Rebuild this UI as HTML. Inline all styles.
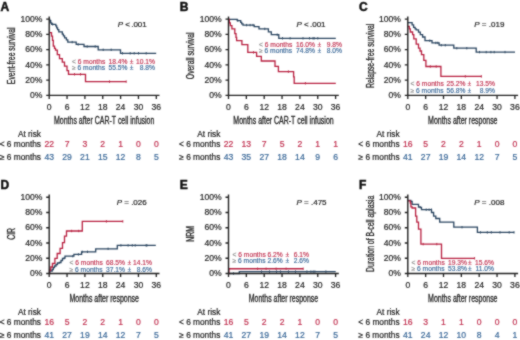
<!DOCTYPE html><html><head><meta charset="utf-8"><style>html,body{margin:0;padding:0;background:#fff;overflow:hidden}svg{display:block;will-change:transform;}text{font-family:"Liberation Sans", sans-serif}</style></head><body>
<svg width="520" height="340" viewBox="0 0 520 340">
<defs><filter id="bl" filterUnits="userSpaceOnUse" x="0" y="0" width="520" height="340" color-interpolation-filters="sRGB"><feConvolveMatrix order="3" kernelMatrix="1 2 1 2 12 2 1 2 1" edgeMode="duplicate" preserveAlpha="true"/></filter></defs>
<g filter="url(#bl)">
<rect width="520" height="340" fill="#fff"/>
<text x="0.5" y="10.5" font-size="12" font-weight="bold" fill="#111" stroke="#111" stroke-width="0.5">A</text>
<text transform="translate(15 55.78) rotate(-90) scale(0.686 1)" text-anchor="middle" font-size="10" fill="#222" stroke="#222" stroke-width="0.3">Event-free survival</text>
<path d="M46.2 80.15H49.2M46.2 64.9H49.2M46.2 49.65H49.2M46.2 34.4H49.2M46.2 19.15H49.2M49.2 95.4V98.9M67.05 95.4V98.9M84.9 95.4V98.9M102.75 95.4V98.9M120.6 95.4V98.9M138.45 95.4V98.9M156.3 95.4V98.9" stroke="#222" stroke-width="1.3" fill="none"/>
<g fill="#262626" stroke="#262626" stroke-width="0.2" font-size="8.6"><text x="42.4" y="98.1" text-anchor="end">0%</text><text x="42.4" y="82.85" text-anchor="end">20%</text><text x="42.4" y="67.6" text-anchor="end">40%</text><text x="42.4" y="52.35" text-anchor="end">60%</text><text x="42.4" y="37.1" text-anchor="end">80%</text><text x="42.4" y="21.85" text-anchor="end">100%</text><text x="49.2" y="109.5" text-anchor="middle">0</text><text x="67.05" y="109.5" text-anchor="middle">6</text><text x="84.9" y="109.5" text-anchor="middle">12</text><text x="102.75" y="109.5" text-anchor="middle">18</text><text x="120.6" y="109.5" text-anchor="middle">24</text><text x="138.45" y="109.5" text-anchor="middle">30</text><text x="156.3" y="109.5" text-anchor="middle">36</text></g>
<text transform="translate(104.2 123.6) scale(0.699 1)" text-anchor="middle" font-size="10" fill="#222" stroke="#222" stroke-width="0.3">Months after CAR-T cell infusion</text>
<g fill="#222" stroke="#222" stroke-width="0.2" font-size="8.3" text-anchor="end"><text x="41" y="136.6">At risk</text><text x="41" y="147.2">&lt; 6 months</text><text x="41" y="159.5">≥ 6 months</text></g>
<g fill="#c0304f" stroke="#c0304f" stroke-width="0.2" font-size="8.6" text-anchor="middle"><text x="49.2" y="147.2">22</text><text x="67.05" y="147.2">7</text><text x="84.9" y="147.2">3</text><text x="102.75" y="147.2">2</text><text x="120.6" y="147.2">1</text><text x="138.45" y="147.2">0</text><text x="156.3" y="147.2">0</text></g>
<g fill="#3a6898" stroke="#3a6898" stroke-width="0.2" font-size="8.6" text-anchor="middle"><text x="49.2" y="159.5">43</text><text x="67.05" y="159.5">29</text><text x="84.9" y="159.5">21</text><text x="102.75" y="159.5">15</text><text x="120.6" y="159.5">12</text><text x="138.45" y="159.5">8</text><text x="156.3" y="159.5">5</text></g>
<text x="117.7" y="27.3" font-size="8" fill="#222" stroke="#222" stroke-width="0.2"><tspan font-style="italic">P</tspan> &lt;<tspan dx="-1"> .001</tspan></text>
<g fill="#c0304f" stroke="#c0304f" stroke-width="0.15" font-size="6.7"><text x="72" y="63.6"><tspan fill="#888" stroke="#888">&lt;</tspan> 6 months</text><text x="108.5" y="63.6">18.4%</text><text x="129.8" y="63.6">±</text><text x="155" y="63.6" text-anchor="end">10.1%</text></g>
<g fill="#3a6898" stroke="#3a6898" stroke-width="0.15" font-size="6.7"><text x="72" y="70.4"><tspan fill="#888" stroke="#888">≥</tspan> 6 months</text><text x="108.5" y="70.4">55.5%</text><text x="129.8" y="70.4">±</text><text x="155" y="70.4" text-anchor="end">8.8%</text></g>
<path d="M49.2 19.3 L49.8 19.3 L49.8 20.6 L50.7 20.6 L50.7 22.8 L51.7 22.8 L51.7 24.3 L55.8 24.3 L55.8 25.9 L56.7 25.9 L56.7 27.8 L57.6 27.8 L57.6 29.7 L58.8 29.7 L58.8 31.8 L62.3 31.8 L62.3 34.1 L63.4 34.1 L63.4 35.9 L64.6 35.9 L64.6 37.9 L66.4 37.9 L66.4 39.9 L67.8 39.9 L67.8 42.1 L76.2 42.1 L76.2 44.4 L84 44.4 L84 46.5 L98.2 46.5 L98.2 49.8 L120.5 49.8 L120.5 53.3 L156.2 53.3" stroke="#2a4560" stroke-width="1.3" fill="none"/>
<path d="M52.7 23.1v2.4M72.2 40.9v2.4M78.2 43.2v2.4M87.2 45.3v2.4M95.2 45.3v2.4M103.2 48.6v2.4M111.2 48.6v2.4M122.5 52.1v2.4M130.2 52.1v2.4M134.2 52.1v2.4M138.5 52.1v2.4M146.2 52.1v2.4" stroke="#2a4560" stroke-width="0.9" fill="none"/>
<path d="M49.2 32.6 L51.5 32.6 L51.5 36.1 L52.5 36.1 L52.5 40.4 L53.3 40.4 L53.3 46.1 L54.5 46.1 L54.5 48.4 L55.5 48.4 L55.5 50.1 L57.3 50.1 L57.3 54.6 L59.5 54.6 L59.5 58.6 L62.3 58.6 L62.3 62.1 L64.5 62.1 L64.5 66.1 L67 66.1 L67 70.6 L68.5 70.6 L68.5 74.3 L85.5 74.3 L85.5 81.6 L126.2 81.6" stroke="#b82040" stroke-width="1.3" fill="none"/>
<path d="M74.5 73.1v2.4M80.5 73.1v2.4M109.5 80.4v2.4M126.2 80.4v2.4" stroke="#b82040" stroke-width="0.9" fill="none"/>
<path d="M49.2 16.45V95.4M46.2 95.4H159.5" stroke="#222" stroke-width="1.4" fill="none"/>
<text x="179.8" y="10.5" font-size="12" font-weight="bold" fill="#111" stroke="#111" stroke-width="0.5">B</text>
<text transform="translate(194.3 55.78) rotate(-90) scale(0.686 1)" text-anchor="middle" font-size="10" fill="#222" stroke="#222" stroke-width="0.3">Overall survival</text>
<path d="M225.5 80.15H228.5M225.5 64.9H228.5M225.5 49.65H228.5M225.5 34.4H228.5M225.5 19.15H228.5M228.5 95.4V98.9M246.35 95.4V98.9M264.2 95.4V98.9M282.05 95.4V98.9M299.9 95.4V98.9M317.75 95.4V98.9M335.6 95.4V98.9" stroke="#222" stroke-width="1.3" fill="none"/>
<g fill="#262626" stroke="#262626" stroke-width="0.2" font-size="8.6"><text x="221.7" y="98.1" text-anchor="end">0%</text><text x="221.7" y="82.85" text-anchor="end">20%</text><text x="221.7" y="67.6" text-anchor="end">40%</text><text x="221.7" y="52.35" text-anchor="end">60%</text><text x="221.7" y="37.1" text-anchor="end">80%</text><text x="221.7" y="21.85" text-anchor="end">100%</text><text x="228.5" y="109.5" text-anchor="middle">0</text><text x="246.35" y="109.5" text-anchor="middle">6</text><text x="264.2" y="109.5" text-anchor="middle">12</text><text x="282.05" y="109.5" text-anchor="middle">18</text><text x="299.9" y="109.5" text-anchor="middle">24</text><text x="317.75" y="109.5" text-anchor="middle">30</text><text x="335.6" y="109.5" text-anchor="middle">36</text></g>
<text transform="translate(283.5 123.6) scale(0.699 1)" text-anchor="middle" font-size="10" fill="#222" stroke="#222" stroke-width="0.3">Months after CAR-T cell infusion</text>
<g fill="#222" stroke="#222" stroke-width="0.2" font-size="8.3" text-anchor="end"><text x="220.3" y="136.6">At risk</text><text x="220.3" y="147.2">&lt; 6 months</text><text x="220.3" y="159.5">≥ 6 months</text></g>
<g fill="#c0304f" stroke="#c0304f" stroke-width="0.2" font-size="8.6" text-anchor="middle"><text x="228.5" y="147.2">22</text><text x="246.35" y="147.2">13</text><text x="264.2" y="147.2">7</text><text x="282.05" y="147.2">5</text><text x="299.9" y="147.2">2</text><text x="317.75" y="147.2">1</text><text x="335.6" y="147.2">1</text></g>
<g fill="#3a6898" stroke="#3a6898" stroke-width="0.2" font-size="8.6" text-anchor="middle"><text x="228.5" y="159.5">43</text><text x="246.35" y="159.5">35</text><text x="264.2" y="159.5">27</text><text x="282.05" y="159.5">18</text><text x="299.9" y="159.5">14</text><text x="317.75" y="159.5">9</text><text x="335.6" y="159.5">6</text></g>
<text x="296.5" y="27.3" font-size="8" fill="#222" stroke="#222" stroke-width="0.2"><tspan font-style="italic">P</tspan> &lt;<tspan dx="-1"> .001</tspan></text>
<g fill="#c0304f" stroke="#c0304f" stroke-width="0.15" font-size="6.7"><text x="259" y="46.6"><tspan fill="#888" stroke="#888">&lt;</tspan> 6 months</text><text x="296" y="46.6">16.0%</text><text x="317.5" y="46.6">±</text><text x="342" y="46.6" text-anchor="end">9.8%</text></g>
<g fill="#3a6898" stroke="#3a6898" stroke-width="0.15" font-size="6.7"><text x="259" y="53.4"><tspan fill="#888" stroke="#888">≥</tspan> 6 months</text><text x="296" y="53.4">74.8%</text><text x="317.5" y="53.4">±</text><text x="342" y="53.4" text-anchor="end">8.0%</text></g>
<path d="M228.5 19.3 L237.2 19.3 L237.2 20.6 L240.7 20.6 L240.7 22.4 L241.7 22.4 L241.7 23.8 L243 23.8 L243 25.1 L254.2 25.1 L254.2 26.7 L259 26.7 L259 28.9 L268.4 28.9 L268.4 31.8 L271.3 31.8 L271.3 34.7 L278.8 34.7 L278.8 38.3 L335.8 38.3" stroke="#2a4560" stroke-width="1.3" fill="none"/>
<path d="M237.8 19.4v2.4M246.6 23.9v2.4M250.1 23.9v2.4M253 23.9v2.4M264.8 27.7v2.4M277.2 33.5v2.4M282.5 37.1v2.4M290.1 37.1v2.4M303 37.1v2.4M309.5 37.1v2.4M313 37.1v2.4M314.2 37.1v2.4M317.8 37.1v2.4" stroke="#2a4560" stroke-width="0.9" fill="none"/>
<path d="M228.5 19.3 L229.3 19.3 L229.3 22.9 L230.3 22.9 L230.3 25.6 L231.9 25.6 L231.9 28.9 L234.8 28.9 L234.8 33.6 L236 33.6 L236 37.4 L236.6 37.4 L236.6 40.6 L241.9 40.6 L241.9 44.7 L247.8 44.7 L247.8 52.4 L256.6 52.4 L256.6 56.3 L261.3 56.3 L261.3 61 L275 61 L275 66.3 L278.4 66.3 L278.4 71.6 L293.6 71.6 L293.6 76.9 L294.2 76.9 L294.2 83.3 L335.8 83.3" stroke="#b82040" stroke-width="1.3" fill="none"/>
<path d="M253.5 51.2v2.4M288.4 70.4v2.4M305.4 82.1v2.4" stroke="#b82040" stroke-width="0.9" fill="none"/>
<path d="M228.5 16.45V95.4M225.5 95.4H338.8" stroke="#222" stroke-width="1.4" fill="none"/>
<text x="359.1" y="10.5" font-size="12" font-weight="bold" fill="#111" stroke="#111" stroke-width="0.5">C</text>
<text transform="translate(373.6 55.78) rotate(-90) scale(0.686 1)" text-anchor="middle" font-size="10" fill="#222" stroke="#222" stroke-width="0.3">Relapse-free survival</text>
<path d="M404.8 80.15H407.8M404.8 64.9H407.8M404.8 49.65H407.8M404.8 34.4H407.8M404.8 19.15H407.8M407.8 95.4V98.9M425.65 95.4V98.9M443.5 95.4V98.9M461.35 95.4V98.9M479.2 95.4V98.9M497.05 95.4V98.9M514.9 95.4V98.9" stroke="#222" stroke-width="1.3" fill="none"/>
<g fill="#262626" stroke="#262626" stroke-width="0.2" font-size="8.6"><text x="401" y="98.1" text-anchor="end">0%</text><text x="401" y="82.85" text-anchor="end">20%</text><text x="401" y="67.6" text-anchor="end">40%</text><text x="401" y="52.35" text-anchor="end">60%</text><text x="401" y="37.1" text-anchor="end">80%</text><text x="401" y="21.85" text-anchor="end">100%</text><text x="407.8" y="109.5" text-anchor="middle">0</text><text x="425.65" y="109.5" text-anchor="middle">6</text><text x="443.5" y="109.5" text-anchor="middle">12</text><text x="461.35" y="109.5" text-anchor="middle">18</text><text x="479.2" y="109.5" text-anchor="middle">24</text><text x="497.05" y="109.5" text-anchor="middle">30</text><text x="514.9" y="109.5" text-anchor="middle">36</text></g>
<text transform="translate(462.8 123.6) scale(0.699 1)" text-anchor="middle" font-size="10" fill="#222" stroke="#222" stroke-width="0.3">Months after response</text>
<g fill="#222" stroke="#222" stroke-width="0.2" font-size="8.3" text-anchor="end"><text x="399.6" y="136.6">At risk</text><text x="399.6" y="147.2">&lt; 6 months</text><text x="399.6" y="159.5">≥ 6 months</text></g>
<g fill="#c0304f" stroke="#c0304f" stroke-width="0.2" font-size="8.6" text-anchor="middle"><text x="407.8" y="147.2">16</text><text x="425.65" y="147.2">5</text><text x="443.5" y="147.2">2</text><text x="461.35" y="147.2">2</text><text x="479.2" y="147.2">1</text><text x="497.05" y="147.2">0</text><text x="514.9" y="147.2">0</text></g>
<g fill="#3a6898" stroke="#3a6898" stroke-width="0.2" font-size="8.6" text-anchor="middle"><text x="407.8" y="159.5">41</text><text x="425.65" y="159.5">27</text><text x="443.5" y="159.5">19</text><text x="461.35" y="159.5">14</text><text x="479.2" y="159.5">12</text><text x="497.05" y="159.5">7</text><text x="514.9" y="159.5">5</text></g>
<text x="474.3" y="27.3" font-size="8" fill="#222" stroke="#222" stroke-width="0.2"><tspan font-style="italic">P</tspan> = .019</text>
<g fill="#c0304f" stroke="#c0304f" stroke-width="0.15" font-size="6.7"><text x="410.5" y="86.1"><tspan fill="#888" stroke="#888">&lt;</tspan> 6 months</text><text x="446.5" y="86.1">25.2%</text><text x="467.5" y="86.1">±</text><text x="495" y="86.1" text-anchor="end">13.5%</text></g>
<g fill="#3a6898" stroke="#3a6898" stroke-width="0.15" font-size="6.7"><text x="410.5" y="93.1"><tspan fill="#888" stroke="#888">≥</tspan> 6 months</text><text x="446.5" y="93.1">56.8%</text><text x="467.5" y="93.1">±</text><text x="495" y="93.1" text-anchor="end">8.9%</text></g>
<path d="M407.8 22.6 L412.1 22.6 L412.1 24.9 L413.6 24.9 L413.6 27.4 L415.1 27.4 L415.1 28.9 L416.2 28.9 L416.2 29.9 L418.5 29.9 L418.5 32.2 L420.3 32.2 L420.3 34.6 L422.6 34.6 L422.6 37 L425 37 L425 40.7 L432 40.7 L432 42.9 L439.1 42.9 L439.1 45.2 L453.8 45.2 L453.8 48.2 L476.2 48.2 L476.2 52.1 L515 52.1" stroke="#2a4560" stroke-width="1.3" fill="none"/>
<path d="M429.8 39.5v2.4M435.8 41.7v2.4M437.8 41.7v2.4M441.3 44v2.4M445.3 44v2.4M456.8 47v2.4M466.8 47v2.4M479.5 50.9v2.4M486.2 50.9v2.4M490.9 50.9v2.4M494.2 50.9v2.4M505 50.9v2.4" stroke="#2a4560" stroke-width="0.9" fill="none"/>
<path d="M407.8 26.4 L409.3 26.4 L409.3 28.8 L410.3 28.8 L410.3 32 L412.6 32 L412.6 34.6 L413.8 34.6 L413.8 38.8 L416.2 38.8 L416.2 44.1 L418.5 44.1 L418.5 48.2 L420 48.2 L420 51 L421.5 51 L421.5 54.6 L423.8 54.6 L423.8 60.3 L425.9 60.3 L425.9 66.5 L440.9 66.5 L440.9 76.4 L481.4 76.4" stroke="#b82040" stroke-width="1.3" fill="none"/>
<path d="M430.3 65.3v2.4M436.2 65.3v2.4M465.3 75.2v2.4M481.4 75.2v2.4" stroke="#b82040" stroke-width="0.9" fill="none"/>
<path d="M407.8 16.45V95.4M404.8 95.4H518.1" stroke="#222" stroke-width="1.4" fill="none"/>
<text x="0.5" y="188.6" font-size="12" font-weight="bold" fill="#111" stroke="#111" stroke-width="0.5">D</text>
<text transform="translate(15 233.88) rotate(-90) scale(0.686 1)" text-anchor="middle" font-size="10" fill="#222" stroke="#222" stroke-width="0.3">CIR</text>
<path d="M46.2 258.25H49.2M46.2 243H49.2M46.2 227.75H49.2M46.2 212.5H49.2M46.2 197.25H49.2M49.2 273.5V277M67.05 273.5V277M84.9 273.5V277M102.75 273.5V277M120.6 273.5V277M138.45 273.5V277M156.3 273.5V277" stroke="#222" stroke-width="1.3" fill="none"/>
<g fill="#262626" stroke="#262626" stroke-width="0.2" font-size="8.6"><text x="42.4" y="276.2" text-anchor="end">0%</text><text x="42.4" y="260.95" text-anchor="end">20%</text><text x="42.4" y="245.7" text-anchor="end">40%</text><text x="42.4" y="230.45" text-anchor="end">60%</text><text x="42.4" y="215.2" text-anchor="end">80%</text><text x="42.4" y="199.95" text-anchor="end">100%</text><text x="49.2" y="287.6" text-anchor="middle">0</text><text x="67.05" y="287.6" text-anchor="middle">6</text><text x="84.9" y="287.6" text-anchor="middle">12</text><text x="102.75" y="287.6" text-anchor="middle">18</text><text x="120.6" y="287.6" text-anchor="middle">24</text><text x="138.45" y="287.6" text-anchor="middle">30</text><text x="156.3" y="287.6" text-anchor="middle">36</text></g>
<text transform="translate(104.2 301.7) scale(0.699 1)" text-anchor="middle" font-size="10" fill="#222" stroke="#222" stroke-width="0.3">Months after response</text>
<g fill="#222" stroke="#222" stroke-width="0.2" font-size="8.3" text-anchor="end"><text x="41" y="314.7">At risk</text><text x="41" y="325.3">&lt; 6 months</text><text x="41" y="337.6">≥ 6 months</text></g>
<g fill="#c0304f" stroke="#c0304f" stroke-width="0.2" font-size="8.6" text-anchor="middle"><text x="49.2" y="325.3">16</text><text x="67.05" y="325.3">5</text><text x="84.9" y="325.3">2</text><text x="102.75" y="325.3">2</text><text x="120.6" y="325.3">1</text><text x="138.45" y="325.3">0</text><text x="156.3" y="325.3">0</text></g>
<g fill="#3a6898" stroke="#3a6898" stroke-width="0.2" font-size="8.6" text-anchor="middle"><text x="49.2" y="337.6">41</text><text x="67.05" y="337.6">27</text><text x="84.9" y="337.6">19</text><text x="102.75" y="337.6">14</text><text x="120.6" y="337.6">12</text><text x="138.45" y="337.6">7</text><text x="156.3" y="337.6">5</text></g>
<text x="116.7" y="205.4" font-size="8" fill="#222" stroke="#222" stroke-width="0.2"><tspan font-style="italic">P</tspan> = .026</text>
<g fill="#c0304f" stroke="#c0304f" stroke-width="0.15" font-size="6.7"><text x="69.5" y="264.5"><tspan fill="#888" stroke="#888">&lt;</tspan> 6 months</text><text x="106" y="264.5">68.5%</text><text x="127.5" y="264.5">±</text><text x="152" y="264.5" text-anchor="end">14.1%</text></g>
<g fill="#3a6898" stroke="#3a6898" stroke-width="0.15" font-size="6.7"><text x="69.5" y="271.5"><tspan fill="#888" stroke="#888">≥</tspan> 6 months</text><text x="106" y="271.5">37.1%</text><text x="127.5" y="271.5">±</text><text x="152" y="271.5" text-anchor="end">8.6%</text></g>
<path d="M49.2 273.5 L49.7 273.5 L49.7 271 L52.2 271 L52.2 269.5 L53.3 269.5 L53.3 267.5 L54.5 267.5 L54.5 266 L56 266 L56 264.5 L57.5 264.5 L57.5 263 L59.5 263 L59.5 262.5 L61 262.5 L61 260.5 L62.5 260.5 L62.5 258.5 L64.2 258.5 L64.2 258 L65 258 L65 256.2 L73.9 256.2 L73.9 254.4 L81.6 254.4 L81.6 251.8 L95.7 251.8 L95.7 248.8 L117.3 248.8 L117.3 245.4 L155.8 245.4" stroke="#2a4560" stroke-width="1.3" fill="none"/>
<path d="M72.8 255v2.4M78.4 253.2v2.4M82.2 250.6v2.4M87.5 250.6v2.4M108.1 247.6v2.4M120.9 244.2v2.4M128.1 244.2v2.4M132.3 244.2v2.4M135.2 244.2v2.4M146.1 244.2v2.4M146.9 244.2v2.4" stroke="#2a4560" stroke-width="0.9" fill="none"/>
<path d="M49.2 273.5 L49.6 273.5 L49.6 270 L50.8 270 L50.8 267 L52.4 267 L52.4 263.5 L54.9 263.5 L54.9 258.4 L57.2 258.4 L57.2 253.5 L60.1 253.5 L60.1 248.3 L62.5 248.3 L62.5 242.7 L64.5 242.7 L64.5 236.2 L66.5 236.2 L66.5 231 L82.3 231 L82.3 221.4 L122.9 221.4" stroke="#b82040" stroke-width="1.3" fill="none"/>
<path d="M71.6 229.8v2.4M78.7 229.8v2.4M106.4 220.2v2.4M122.8 220.2v2.4" stroke="#b82040" stroke-width="0.9" fill="none"/>
<path d="M49.2 194.55V273.5M46.2 273.5H159.5" stroke="#222" stroke-width="1.4" fill="none"/>
<text x="179.8" y="188.6" font-size="12" font-weight="bold" fill="#111" stroke="#111" stroke-width="0.5">E</text>
<text transform="translate(194.3 233.88) rotate(-90) scale(0.686 1)" text-anchor="middle" font-size="10" fill="#222" stroke="#222" stroke-width="0.3">NRM</text>
<path d="M225.5 258.25H228.5M225.5 243H228.5M225.5 227.75H228.5M225.5 212.5H228.5M225.5 197.25H228.5M228.5 273.5V277M246.35 273.5V277M264.2 273.5V277M282.05 273.5V277M299.9 273.5V277M317.75 273.5V277M335.6 273.5V277" stroke="#222" stroke-width="1.3" fill="none"/>
<g fill="#262626" stroke="#262626" stroke-width="0.2" font-size="8.6"><text x="221.7" y="276.2" text-anchor="end">0%</text><text x="221.7" y="260.95" text-anchor="end">20%</text><text x="221.7" y="245.7" text-anchor="end">40%</text><text x="221.7" y="230.45" text-anchor="end">60%</text><text x="221.7" y="215.2" text-anchor="end">80%</text><text x="221.7" y="199.95" text-anchor="end">100%</text><text x="228.5" y="287.6" text-anchor="middle">0</text><text x="246.35" y="287.6" text-anchor="middle">6</text><text x="264.2" y="287.6" text-anchor="middle">12</text><text x="282.05" y="287.6" text-anchor="middle">18</text><text x="299.9" y="287.6" text-anchor="middle">24</text><text x="317.75" y="287.6" text-anchor="middle">30</text><text x="335.6" y="287.6" text-anchor="middle">36</text></g>
<text transform="translate(283.5 301.7) scale(0.699 1)" text-anchor="middle" font-size="10" fill="#222" stroke="#222" stroke-width="0.3">Months after response</text>
<g fill="#222" stroke="#222" stroke-width="0.2" font-size="8.3" text-anchor="end"><text x="220.3" y="314.7">At risk</text><text x="220.3" y="325.3">&lt; 6 months</text><text x="220.3" y="337.6">≥ 6 months</text></g>
<g fill="#c0304f" stroke="#c0304f" stroke-width="0.2" font-size="8.6" text-anchor="middle"><text x="228.5" y="325.3">16</text><text x="246.35" y="325.3">5</text><text x="264.2" y="325.3">2</text><text x="282.05" y="325.3">2</text><text x="299.9" y="325.3">1</text><text x="317.75" y="325.3">0</text><text x="335.6" y="325.3">0</text></g>
<g fill="#3a6898" stroke="#3a6898" stroke-width="0.2" font-size="8.6" text-anchor="middle"><text x="228.5" y="337.6">41</text><text x="246.35" y="337.6">27</text><text x="264.2" y="337.6">19</text><text x="282.05" y="337.6">14</text><text x="299.9" y="337.6">12</text><text x="317.75" y="337.6">7</text><text x="335.6" y="337.6">5</text></g>
<text x="296.5" y="205.4" font-size="8" fill="#222" stroke="#222" stroke-width="0.2"><tspan font-style="italic">P</tspan> = .475</text>
<g fill="#c0304f" stroke="#c0304f" stroke-width="0.15" font-size="6.7"><text x="232.5" y="256.5"><tspan fill="#888" stroke="#888">&lt;</tspan> 6 months</text><text x="267.5" y="256.5">6.2%</text><text x="285.5" y="256.5">±</text><text x="309" y="256.5" text-anchor="end">6.1%</text></g>
<g fill="#3a6898" stroke="#3a6898" stroke-width="0.15" font-size="6.7"><text x="232.5" y="263"><tspan fill="#888" stroke="#888">≥</tspan> 6 months</text><text x="267.5" y="263">2.6%</text><text x="285.5" y="263">±</text><text x="309" y="263" text-anchor="end">2.6%</text></g>
<path d="M228.5 273.5 L239.3 273.5 L239.3 271.6 L335.7 271.6" stroke="#2a4560" stroke-width="1.3" fill="none"/>
<path d="M233.5 272.3v2.4M261.5 270.4v2.4M269.5 270.4v2.4M276.5 270.4v2.4M280.5 270.4v2.4M288.5 270.4v2.4M295.5 270.4v2.4M306.9 270.4v2.4M310.9 270.4v2.4M313.2 270.4v2.4M314.9 270.4v2.4M325.9 270.4v2.4" stroke="#2a4560" stroke-width="0.9" fill="none"/>
<path d="M228.5 273.5 L228.9 273.5 L228.9 268.75 L303.2 268.75" stroke="#b82040" stroke-width="1.3" fill="none"/>
<path d="M257.6 267.55v2.4M266.1 267.55v2.4M276.1 267.55v2.4M286.1 267.55v2.4M303.2 267.55v2.4" stroke="#b82040" stroke-width="0.9" fill="none"/>
<path d="M228.5 194.55V273.5M225.5 273.5H338.8" stroke="#222" stroke-width="1.4" fill="none"/>
<text x="359.1" y="188.6" font-size="12" font-weight="bold" fill="#111" stroke="#111" stroke-width="0.5">F</text>
<text transform="translate(373.6 233.88) rotate(-90) scale(0.686 1)" text-anchor="middle" font-size="10" fill="#222" stroke="#222" stroke-width="0.3">Duration of B-cell aplasia</text>
<path d="M404.8 258.25H407.8M404.8 243H407.8M404.8 227.75H407.8M404.8 212.5H407.8M404.8 197.25H407.8M407.8 273.5V277M425.65 273.5V277M443.5 273.5V277M461.35 273.5V277M479.2 273.5V277M497.05 273.5V277M514.9 273.5V277" stroke="#222" stroke-width="1.3" fill="none"/>
<g fill="#262626" stroke="#262626" stroke-width="0.2" font-size="8.6"><text x="401" y="276.2" text-anchor="end">0%</text><text x="401" y="260.95" text-anchor="end">20%</text><text x="401" y="245.7" text-anchor="end">40%</text><text x="401" y="230.45" text-anchor="end">60%</text><text x="401" y="215.2" text-anchor="end">80%</text><text x="401" y="199.95" text-anchor="end">100%</text><text x="407.8" y="287.6" text-anchor="middle">0</text><text x="425.65" y="287.6" text-anchor="middle">6</text><text x="443.5" y="287.6" text-anchor="middle">12</text><text x="461.35" y="287.6" text-anchor="middle">18</text><text x="479.2" y="287.6" text-anchor="middle">24</text><text x="497.05" y="287.6" text-anchor="middle">30</text><text x="514.9" y="287.6" text-anchor="middle">36</text></g>
<text transform="translate(462.8 301.7) scale(0.699 1)" text-anchor="middle" font-size="10" fill="#222" stroke="#222" stroke-width="0.3">Months after response</text>
<g fill="#222" stroke="#222" stroke-width="0.2" font-size="8.3" text-anchor="end"><text x="399.6" y="314.7">At risk</text><text x="399.6" y="325.3">&lt; 6 months</text><text x="399.6" y="337.6">≥ 6 months</text></g>
<g fill="#c0304f" stroke="#c0304f" stroke-width="0.2" font-size="8.6" text-anchor="middle"><text x="407.8" y="325.3">16</text><text x="425.65" y="325.3">3</text><text x="443.5" y="325.3">1</text><text x="461.35" y="325.3">1</text><text x="479.2" y="325.3">0</text><text x="497.05" y="325.3">0</text><text x="514.9" y="325.3">0</text></g>
<g fill="#3a6898" stroke="#3a6898" stroke-width="0.2" font-size="8.6" text-anchor="middle"><text x="407.8" y="337.6">41</text><text x="425.65" y="337.6">24</text><text x="443.5" y="337.6">12</text><text x="461.35" y="337.6">10</text><text x="479.2" y="337.6">8</text><text x="497.05" y="337.6">4</text><text x="514.9" y="337.6">1</text></g>
<text x="474.3" y="205.4" font-size="8" fill="#222" stroke="#222" stroke-width="0.2"><tspan font-style="italic">P</tspan> = .008</text>
<g fill="#c0304f" stroke="#c0304f" stroke-width="0.15" font-size="6.7"><text x="411.5" y="264.5"><tspan fill="#888" stroke="#888">&lt;</tspan> 6 months</text><text x="448" y="264.5">19.3%</text><text x="468" y="264.5">±</text><text x="494" y="264.5" text-anchor="end">15.6%</text></g>
<g fill="#3a6898" stroke="#3a6898" stroke-width="0.15" font-size="6.7"><text x="411.5" y="271.3"><tspan fill="#888" stroke="#888">≥</tspan> 6 months</text><text x="448" y="271.3">53.8%</text><text x="468" y="271.3">±</text><text x="494" y="271.3" text-anchor="end">11.0%</text></g>
<path d="M407.8 200.3 L410.8 200.3 L410.8 201.5 L412.1 201.5 L412.1 204.4 L418.5 204.4 L418.5 207 L420.3 207 L420.3 207.5 L421.5 207.5 L421.5 209.7 L431.5 209.7 L431.5 212.5 L433.6 212.5 L433.6 216.2 L435.8 216.2 L435.8 218.5 L439.7 218.5 L439.7 222.1 L453.8 222.1 L453.8 227.2 L477.4 227.2 L477.4 232.4 L514.2 232.4" stroke="#2a4560" stroke-width="1.3" fill="none"/>
<path d="M426.2 208.5v2.4M429.1 208.5v2.4M431.5 208.5v2.4M462 226v2.4M480.4 231.2v2.4M487.3 231.2v2.4M491.3 231.2v2.4M500 231.2v2.4M509.2 231.2v2.4M514 231.2v2.4" stroke="#2a4560" stroke-width="0.9" fill="none"/>
<path d="M407.8 200.9 L410.3 200.9 L410.3 203.2 L410.9 203.2 L410.9 206.8 L412.1 206.8 L412.1 208 L415.6 208 L415.6 216.2 L416.8 216.2 L416.8 222.1 L418.5 222.1 L418.5 229.1 L420.9 229.1 L420.9 244.1 L441.5 244.1 L441.5 258.3 L474.6 258.3" stroke="#b82040" stroke-width="1.3" fill="none"/>
<path d="M423.2 242.9v2.4M436.8 242.9v2.4M474.6 257.1v2.4" stroke="#b82040" stroke-width="0.9" fill="none"/>
<path d="M407.8 194.55V273.5M404.8 273.5H518.1" stroke="#222" stroke-width="1.4" fill="none"/>
</g></svg></body></html>
